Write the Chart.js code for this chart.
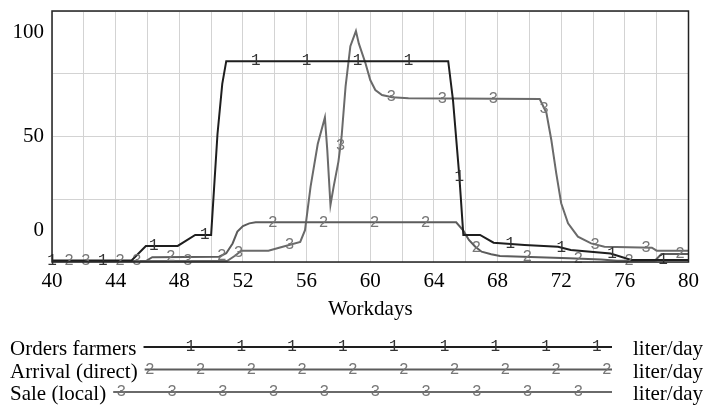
<!DOCTYPE html>
<html>
<head>
<meta charset="utf-8">
<script src="https://cdn.jsdelivr.net/npm/chart.js@4"></script>
<style>
  body { margin: 0; background: #fff; }
  canvas { display: block; }
</style>
</head>
<body>
<canvas id="chart" width="706" height="405"></canvas>
<script>
// values (x = workday, y = liter/day)
var ordersDays   = [40, 45.0, 45.9, 47.9, 49.0, 50.0, 50.4, 50.7, 50.95, 64.9, 65.2, 65.6, 65.85, 66.9, 67.75, 69.7, 71.8, 72.6, 75.1, 76.4, 80];
var ordersValues = [0.6, 0.6, 6.4, 6.4, 10.8, 10.8, 51, 71, 80, 80, 64.5, 34, 10.8, 10.8, 7.7, 6.8, 6.1, 4.8, 3.4, 0.8, 0.8];

var arrivalDays   = [40, 45.9, 46.3, 50.5, 50.95, 51.35, 51.65, 52.0, 52.4, 52.8, 65.4, 65.85, 66.2, 66.6, 67.0, 67.6, 68.15, 72.5, 74.5, 75.5, 77.9, 78.3, 80];
var arrivalValues = [0.4, 0.4, 1.9, 2.1, 3.5, 7.4, 12.1, 14.3, 15.4, 15.8, 15.8, 12.5, 8.8, 6.1, 4.1, 3.1, 2.4, 1.5, 1.0, 0.5, 0.6, 3.2, 3.2];

var saleDays   = [40, 51.0, 51.5, 51.9, 53.6, 54.5, 55.6, 55.9, 56.25, 56.7, 57.15, 57.3, 57.5, 57.7, 58.0, 58.2, 58.45, 58.75, 59.1, 59.28, 59.7, 60.0, 60.32, 60.74, 61.37, 62.4, 70.65, 71.07, 71.38, 71.69, 72.0, 72.43, 73.05, 73.88, 74.72, 77.7, 78.0, 80];
var saleValues = [0.4, 0.4, 2.5, 4.5, 4.5, 6.1, 8.0, 12.7, 30, 47, 57.6, 44.6, 22.7, 30, 40, 50, 70, 86, 92, 87.1, 79.2, 72.5, 68.5, 66.5, 65.6, 65.2, 64.9, 59.4, 48.6, 35.3, 23.4, 15.4, 10.1, 7.4, 6.1, 5.7, 4.5, 4.5];

var seriesNames = ['Orders farmers', 'Arrival (direct)', 'Sale (local)'];
var seriesUnits = ['liter/day', 'liter/day', 'liter/day'];
var yTickLabels = [0, 50, 100];

var serif = '"Liberation Serif", "Times New Roman", serif';
var mono = '"Liberation Mono", "Courier New", monospace';
var markerStep = 3.2;

function points(days, values) {
    return days.map(function (d, i) { return {x: d, y: values[i]}; });
}

// digits drawn along each curve, Vensim style
var markerPlugin = {
    id: 'markers',
    afterDatasetsDraw: function (chart) {
        var ctx = chart.ctx, x = chart.scales.x;
        ctx.save();
        ctx.font = '16px ' + mono;
        ctx.textAlign = 'center';
        ctx.textBaseline = 'middle';
        chart.data.datasets.forEach(function (ds, i) {
            var pts = chart.getDatasetMeta(i).data;
            ctx.fillStyle = ds.markerColor;
            for (var d = ds.markerStart; d <= 80.01; d += markerStep) {
                var px = x.getPixelForValue(d);
                var j = 1;
                while (j < pts.length - 1 && pts[j].x < px) j++;
                var a = pts[j - 1], b = pts[j];
                var t = b.x === a.x ? 0 : (px - a.x) / (b.x - a.x);
                ctx.fillText(ds.marker, px, a.y + t * (b.y - a.y));
            }
        });
        ctx.restore();
    }
};

// box, y labels and the legend underneath
var framePlugin = {
    id: 'frame',
    afterDraw: function (chart) {
        var ctx = chart.ctx, area = chart.chartArea, y = chart.scales.y;
        ctx.save();
        ctx.strokeStyle = '#222';
        ctx.lineWidth = 1.5;
        ctx.strokeRect(area.left, area.top, area.right - area.left, area.bottom - area.top);

        ctx.fillStyle = '#000';
        ctx.font = '21px ' + serif;
        ctx.textAlign = 'right';
        ctx.textBaseline = 'middle';
        yTickLabels.forEach(function (v) {
            var py = y.getPixelForValue(v);
            if (v === 100) py = area.top + 21;
            if (v === 0) py = area.bottom - 32;
            ctx.fillText(String(v), 44, py);
        });

        var offsets = [47, 5, 8];
        var lineEnd = 612;
        chart.data.datasets.forEach(function (ds, i) {
            var rowY = area.bottom + 85 + i * 22.5;
            ctx.font = '21px ' + serif;
            ctx.textAlign = 'left';
            ctx.textBaseline = 'alphabetic';
            ctx.fillStyle = '#000';
            ctx.fillText(seriesNames[i], 10, rowY + 8);
            var start = 10 + ctx.measureText(seriesNames[i]).width + 7;
            ctx.fillText(seriesUnits[i], 633, rowY + 8);
            ctx.strokeStyle = ds.borderColor;
            ctx.lineWidth = 2;
            ctx.beginPath();
            ctx.moveTo(start, rowY);
            ctx.lineTo(lineEnd, rowY);
            ctx.stroke();
            ctx.font = '16px ' + mono;
            ctx.textAlign = 'center';
            ctx.textBaseline = 'middle';
            ctx.fillStyle = ds.markerColor;
            for (var px = start + offsets[i]; px <= lineEnd + 1; px += 50.8) {
                ctx.fillText(ds.marker, px, rowY);
            }
        });
        ctx.restore();
    }
};

var chart = new Chart(document.getElementById('chart'), {
    type: 'line',
    data: {
        datasets: [{
            label: seriesNames[0],
            data: points(ordersDays, ordersValues),
            borderColor: '#1e1e1e',
            marker: '1', markerStart: 40, markerColor: '#333'
        }, {
            label: seriesNames[1],
            data: points(arrivalDays, arrivalValues),
            borderColor: '#5c5c5c',
            marker: '2', markerStart: 41.07, markerColor: '#777'
        }, {
            label: seriesNames[2],
            data: points(saleDays, saleValues),
            borderColor: '#6a6a6a',
            marker: '3', markerStart: 42.13, markerColor: '#777'
        }]
    },
    options: {
        responsive: false,
        animation: false,
        devicePixelRatio: 1,
        layout: { padding: { top: 11, right: 15, bottom: 80, left: 0 } },
        elements: {
            line: { borderWidth: 2, tension: 0, fill: false },
            point: { radius: 0 }
        },
        plugins: { legend: { display: false }, tooltip: { enabled: false } },
        scales: {
            x: {
                type: 'linear',
                min: 40, max: 80,
                afterFit: function (s) { s.height = 63; },
                border: { display: false },
                grid: { color: '#d3d3d3', drawTicks: false },
                ticks: {
                    stepSize: 2, autoSkip: false, maxRotation: 0, padding: 7,
                    color: '#000', font: { family: serif, size: 21 },
                    callback: function (v) { return v % 4 === 0 ? v : ''; }
                },
                title: {
                    display: true, text: 'Workdays', color: '#000',
                    font: { family: serif, size: 21 }, padding: { top: 4, bottom: 3 }
                }
            },
            y: {
                min: 0, max: 100,
                afterFit: function (s) { s.width = 52; },
                border: { display: false },
                grid: { color: '#d3d3d3', drawTicks: false },
                ticks: { stepSize: 25, display: false }
            }
        }
    },
    plugins: [markerPlugin, framePlugin]
});
</script>
</body>
</html>
